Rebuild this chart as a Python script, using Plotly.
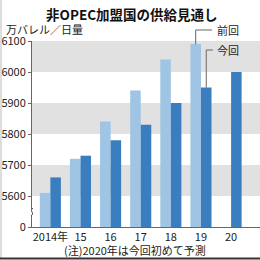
import plotly.graph_objects as go

years = ["2014年", "15", "16", "17", "18", "19", "20"]
prev_vals = [5610, 5720, 5840, 5940, 6040, 6090, None]
curr_vals = [5660, 5730, 5780, 5830, 5900, 5950, 6000]
y_ticks = [5500, 5600, 5700, 5800, 5900, 6000, 6100]
y_ticktext = ["0", "5600", "5700", "5800", "5900", "6000", "6100"]
bands = [(5600, 5700), (5800, 5900), (6000, 6100)]

W, H = 260, 260
ML, MR, MT, MB = 32, 0, 41, 33
PW, PH = W - ML - MR, H - MT - MB
BASE, TOP = 5500, 6100
XR = (-0.61, 6.96)

def px(x):
    return (x - ML) / PW

def py(y):
    return (H - MB - y) / PH

def vy(v):
    # data value -> paper y
    return (v - BASE) / (TOP - BASE)

def cx(i):
    # category index -> paper x
    return (i - XR[0]) / (XR[1] - XR[0])

FONT = "Noto Sans CJK JP"
TXT = "#222222"

fig = go.Figure()
fig.add_bar(x=years, y=[v - BASE if v is not None else None for v in prev_vals], base=BASE,
            name="前回", marker=dict(color="#9fc4e4", line=dict(width=0)))
fig.add_bar(x=years, y=[v - BASE for v in curr_vals], base=BASE,
            name="今回", marker=dict(color="#3b7ec0", line=dict(width=0)))

shapes = []
for lo, hi in bands:
    shapes.append(dict(type="rect", xref="paper", yref="y", x0=0, x1=1, y0=lo, y1=hi,
                       fillcolor="#e1e1e1", line=dict(width=0), layer="below"))
# y axis break
shapes.append(dict(type="rect", xref="paper", yref="paper", x0=px(29), x1=px(36),
                   y0=py(215), y1=py(209), fillcolor="white", line=dict(width=0), layer="above"))
shapes.append(dict(type="path", xref="paper", yref="paper",
                   path=f"M {px(31)} {py(216)} Q {px(34)} {py(214)} {px(32)} {py(212)} T {px(33)} {py(208)}",
                   line=dict(color="#555555", width=1), layer="above"))
# legend callout lines (from the 2019 bars)
bw = 0.35 * 0.5  # half of a bar's width in category units
xp = cx(5 - bw)
xc = cx(5 + bw)
ylp = py(30)
ylc = py(50)
LC = "#666666"
shapes += [
    dict(type="line", xref="paper", yref="paper", x0=xp, x1=xp, y0=vy(prev_vals[5]), y1=ylp, line=dict(color=LC, width=1)),
    dict(type="line", xref="paper", yref="paper", x0=xp, x1=px(212), y0=ylp, y1=ylp, line=dict(color=LC, width=1)),
    dict(type="line", xref="paper", yref="paper", x0=xc, x1=xc, y0=vy(curr_vals[5]), y1=ylc, line=dict(color=LC, width=1)),
    dict(type="line", xref="paper", yref="paper", x0=xc, x1=px(213), y0=ylc, y1=ylc, line=dict(color=LC, width=1)),
]
# frame
shapes.append(dict(type="line", xref="paper", yref="paper", x0=px(1), x1=px(1), y0=py(0), y1=py(258),
                   line=dict(color="#bbbbbb", width=1)))
shapes.append(dict(type="line", xref="paper", yref="paper", x0=px(0), x1=px(260), y0=py(258.5), y1=py(258.5),
                   line=dict(color="#333333", width=2)))

annotations = [
    dict(text="<b>非OPEC加盟国の供給見通し</b>", xref="paper", yref="paper", x=px(132), y=py(14),
         xanchor="center", yanchor="middle", showarrow=False, font=dict(size=13.5, color="#111111", family=FONT)),
    dict(text="万バレル／日量", xref="paper", yref="paper", x=px(4), y=py(29),
         xanchor="left", yanchor="middle", showarrow=False, font=dict(size=11, color=TXT, family=FONT)),
    dict(text="前回", xref="paper", yref="paper", x=px(215), y=py(30),
         xanchor="left", yanchor="middle", showarrow=False, font=dict(size=11, color=TXT, family=FONT)),
    dict(text="今回", xref="paper", yref="paper", x=px(215), y=py(50),
         xanchor="left", yanchor="middle", showarrow=False, font=dict(size=11, color=TXT, family=FONT)),
    dict(text="(注)2020年は今回初めて予測", xref="paper", yref="paper", x=px(62), y=py(250),
         xanchor="left", yanchor="middle", showarrow=False, font=dict(size=11, color=TXT, family=FONT)),
]

fig.update_layout(
    width=W, height=H, margin=dict(l=ML, r=MR, t=MT, b=MB),
    paper_bgcolor="white", plot_bgcolor="white",
    barmode="group", bargap=0.3, bargroupgap=0,
    showlegend=False,
    shapes=shapes, annotations=annotations,
    font=dict(family=FONT, size=11, color=TXT),
    xaxis=dict(type="category", range=list(XR), showline=True, linecolor="#666666", linewidth=1,
               ticks="", showgrid=False, tickfont=dict(size=11, color=TXT), ticklabelstandoff=0, fixedrange=True),
    yaxis=dict(range=[BASE, TOP], tickvals=y_ticks, ticktext=y_ticktext, showline=True,
               linecolor="#666666", linewidth=1, ticks="outside", ticklen=3, tickcolor="#666666",
               showgrid=False, zeroline=False, tickfont=dict(size=11, color=TXT), fixedrange=True),
)

fig.write_html("out.html")
